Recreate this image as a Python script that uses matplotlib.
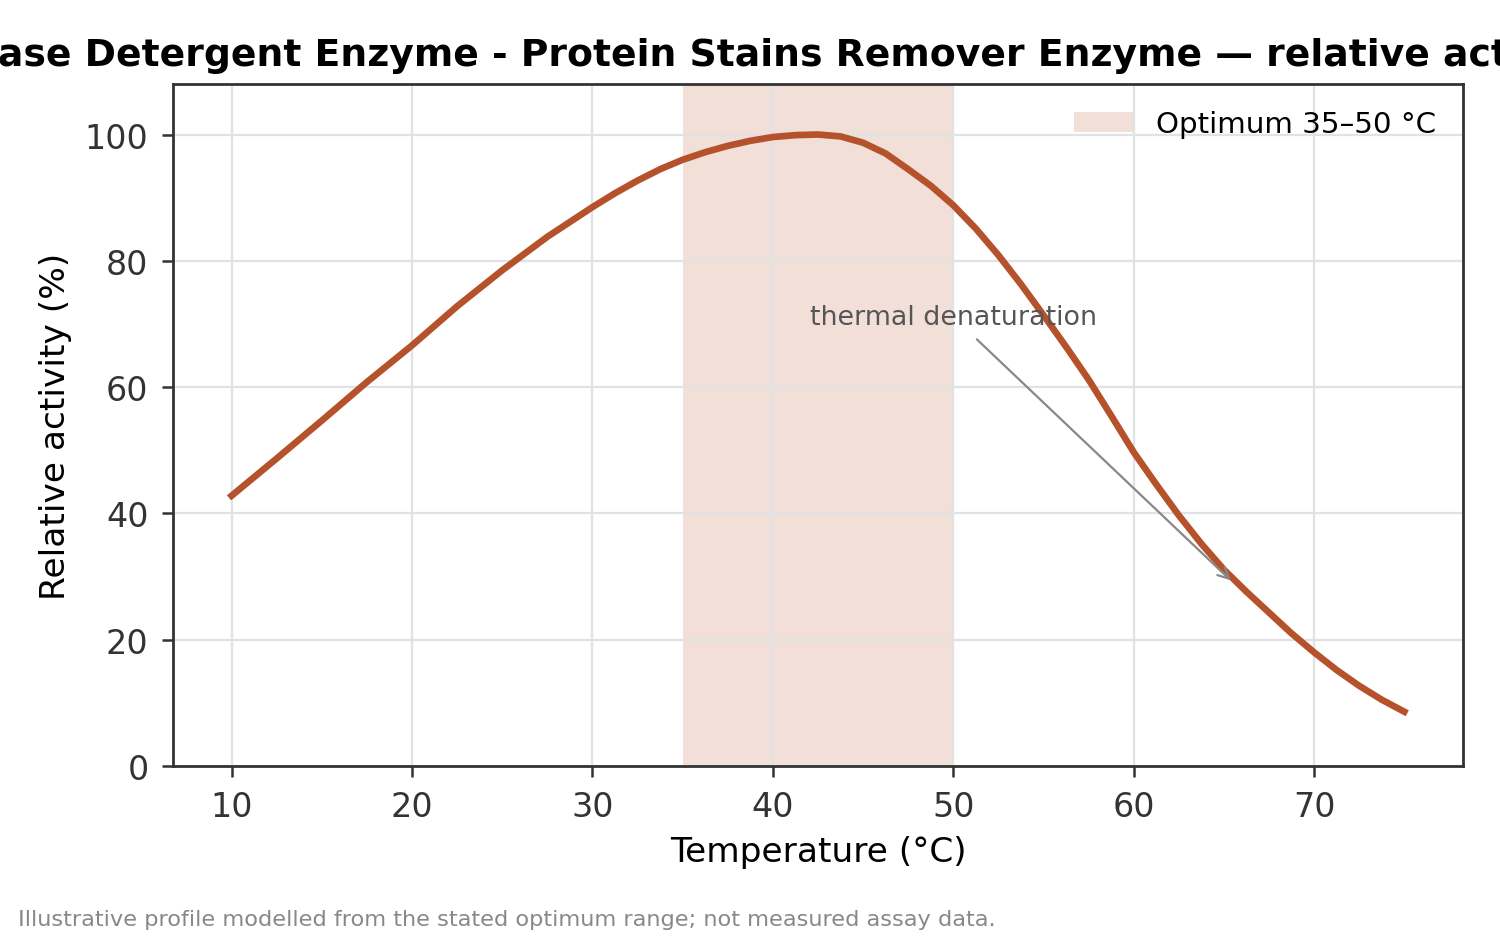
import matplotlib
matplotlib.use("Agg")
import numpy as np
from matplotlib import pyplot as plt

# relative activity
temps = [10, 12.5, 15, 17.5, 20, 22.5, 25, 27.5, 30, 31.25, 32.5, 33.75, 35,
         36.25, 37.5, 38.75, 40, 41.25, 42.5, 43.75, 45, 46.25, 47.5, 48.75,
         50, 51.25, 52.5, 53.75, 55, 56.25, 57.5, 58.75, 60, 61.25, 62.5, 63.75,
         65, 66.25, 67.5, 68.75, 70, 71.25, 72.5, 73.75, 75]
activity = [42.8, 48.7, 54.7, 60.8, 66.6, 72.8, 78.5, 83.8, 88.5, 90.7, 92.7,
            94.5, 96.0, 97.2, 98.2, 99.0, 99.6, 99.9, 100.0, 99.7, 98.7, 97.0,
            94.5, 91.9, 88.8, 85.1, 80.9, 76.3, 71.4, 66.4, 61.2, 55.5, 49.7,
            44.6, 39.7, 35.2, 31.1, 27.6, 24.3, 21.0, 18.0, 15.2, 12.7, 10.5, 8.6]

opt_range = (35, 50)
line_color = "#b5522b"
title = "Protease Detergent Enzyme - Protein Stains Remover Enzyme \u2014 relative activity"

fig = plt.figure(figsize=(7.5, 4.685), dpi=200)
ax = fig.add_axes([0.1153, 0.1814, 0.86, 0.7279])

ax.axvspan(opt_range[0], opt_range[1], color=line_color, alpha=0.18, lw=0,
           zorder=0, label="Optimum 35\u201350 \u00b0C")
ax.plot(temps, activity, color=line_color, lw=2.4, zorder=3)

ax.annotate("thermal denaturation", xy=(65.6, 28.8), xytext=(50, 70),
            ha="center", fontsize=9.7, color="#555555",
            arrowprops=dict(arrowstyle="->", color="#888888", lw=0.8))

ax.set_ylim(0, 108)
ax.set_xticks([10, 20, 30, 40, 50, 60, 70])
ax.set_yticks([0, 20, 40, 60, 80, 100])
ax.grid(True, color="#e0e3e6", lw=0.8)
ax.set_axisbelow(True)
for s in ax.spines.values():
    s.set_color("#333333")
    s.set_linewidth(1.0)
ax.tick_params(labelsize=12.0, labelcolor="#333333", color="#333333",
               length=3.8, width=0.9, pad=5)

ax.set_xlabel("Temperature (\u00b0C)", fontsize=12.4, labelpad=4)
ax.set_ylabel("Relative activity (%)", fontsize=12.4, labelpad=4.5)
ax.legend(loc="upper right", frameon=False, fontsize=10.6)

# title is wider than the figure, as in the original
fig.text(742 / 1500, 1 - 66 / 937, title, ha="center", va="baseline",
         fontsize=13.6, fontweight="bold")

fig.text(0.012, 0.012, "Illustrative profile modelled from the stated optimum range; not measured assay data.",
         fontsize=8.1, color="#888888")

fig.savefig("out.png", dpi=200)
